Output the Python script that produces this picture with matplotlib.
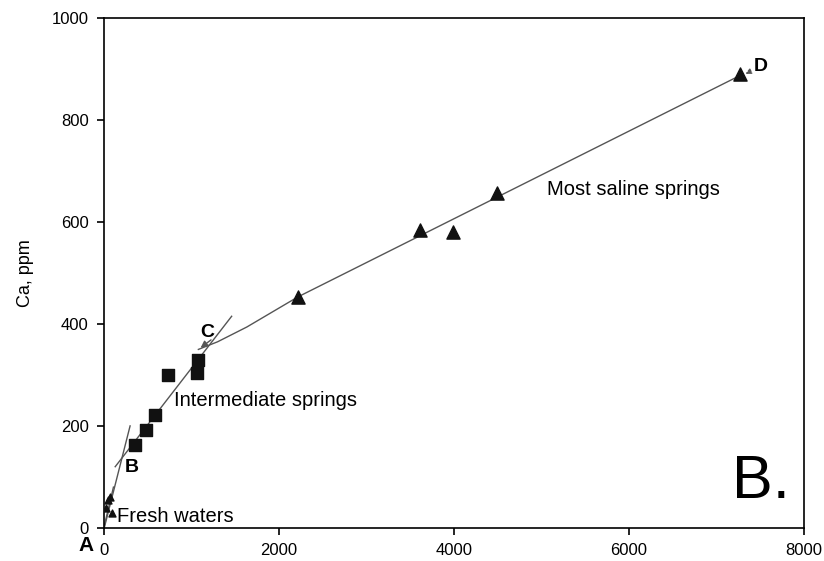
import matplotlib.pyplot as plt
import numpy as np

plt.rcParams['font.family'] = ['Liberation Sans', 'DejaVu Sans']

# Data
fresh_x = [25, 45, 70, 90]
fresh_y = [40, 55, 60, 30]

inter_x = [354, 480, 583, 731, 1063, 1074]
inter_y = [163, 192, 221, 300, 304, 329]

saline_x = [2217, 3611, 3989, 4491, 7269]
saline_y = [453, 584, 580, 657, 890]

# hand-drawn trend lines (A-B, B-C, C-D)
line_ab_x = [-10, 300]
line_ab_y = [-10, 200]
line_a2_x = [0, 110]
line_a2_y = [0, 80]
line_bc_x = [130, 1460]
line_bc_y = [120, 415]
line_cd_x = [1080, 1300, 1634, 2217, 7300]
line_cd_y = [350, 365, 394, 453, 890]

fig = plt.figure(figsize=(8.24, 5.61), dpi=100)
ax = fig.add_axes([0.126, 0.059, 0.85, 0.909])

lc = '#555555'
ax.plot(line_ab_x, line_ab_y, color=lc, lw=1)
ax.plot(line_a2_x, line_a2_y, color=lc, lw=1)
ax.plot(line_bc_x, line_bc_y, color=lc, lw=1)
ax.plot(line_cd_x, line_cd_y, color=lc, lw=1)

ax.scatter(fresh_x, fresh_y, marker='^', s=25, color='#111111', zorder=3)
ax.scatter(inter_x, inter_y, marker='s', s=80, color='#111111', zorder=3)
ax.scatter(saline_x, saline_y, marker='^', s=90, color='#111111', zorder=3)

# arrows
ax.annotate('', xy=(1080, 350), xytext=(1250, 372),
            arrowprops=dict(arrowstyle='-|>', color=lc, lw=1, mutation_scale=10))
ax.annotate('D', xy=(7300, 888), xytext=(7420, 905),
            fontsize=14, fontweight='bold', va='center', ha='left',
            arrowprops=dict(arrowstyle='-|>', color=lc, lw=1, ls='--', mutation_scale=8))

# labels
ax.text(320, 118, 'B', fontsize=14, fontweight='bold', ha='center', va='center')
ax.text(1180, 383, 'C', fontsize=14, fontweight='bold', ha='center', va='center')
ax.text(-200, -34, 'A', fontsize=15, fontweight='bold', ha='center', va='center',
        clip_on=False)
ax.text(150, 22, 'Fresh waters', fontsize=14.5, ha='left', va='center')
ax.text(800, 250, 'Intermediate springs', fontsize=14.5, ha='left', va='center')
ax.text(5060, 664, 'Most saline springs', fontsize=14.5, ha='left', va='center')
ax.text(7840, 90, 'B.', fontsize=44, ha='right', va='center')

ax.set_xlim(0, 8000)
ax.set_ylim(0, 1000)
ax.set_xticks([0, 2000, 4000, 6000, 8000])
ax.set_yticks([0, 200, 400, 600, 800, 1000])
ax.tick_params(direction='out', length=5, width=1.2, labelsize=12, pad=6,
               top=False, right=False)
ax.set_ylabel('Ca, ppm', fontsize=13)
ax.yaxis.set_label_coords(-0.1, 0.5)
for s in ax.spines.values():
    s.set_linewidth(1.2)

plt.savefig('out.png', dpi=100)
